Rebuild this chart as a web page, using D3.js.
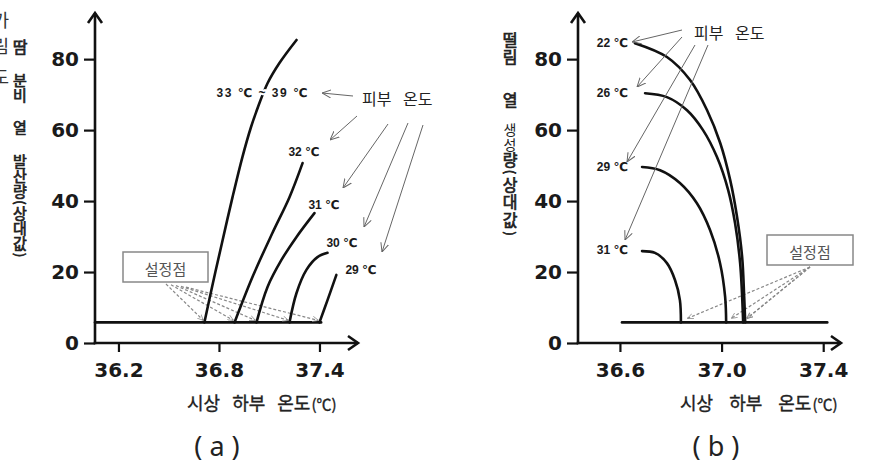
<!DOCTYPE html>
<html><head><meta charset="utf-8">
<script src="https://cdn.jsdelivr.net/npm/d3@7"></script>
<style>body{margin:0;background:#fff}svg{display:block}</style>
</head><body><svg id="c" width="872" height="463"></svg>
<script>
// ---------- data ----------
const yTicks = [0, 20, 40, 60, 80];
const xTicksA = [36.2, 36.8, 37.4];
const xTicksB = [36.6, 37.0, 37.4];
const skinLabel = "피부 온도";
const setPointLabel = "설정점";
const xTitleMain = "시상 하부 온도";
const xTitleUnit = "(℃)";
const panelNames = ["( a )", "( b )"];
const yTitleA = "땀 분비 열 발산량(상대값)";
const yTitleB = "떨림 열 생성량(상대값)";

// (a) sweating heat loss vs hypothalamic temperature
const sweatLabels = ["33 ℃ ~ 39 ℃", "32 ℃", "31 ℃", "30 ℃", "29 ℃"];
const sweat33to39 = [[36.713,5.8],[36.764,16.9],[36.818,28.2],[36.881,41.1],[36.940,52.4],[36.991,60.8],[37.033,66.5],[37.090,73.2],[37.161,78.9],[37.263,85.4]];
const sweat32 = [[36.893,5.8],[37.000,18.6],[37.119,31.0],[37.221,41.1],[37.299,50.7]];
const sweat31 = [[37.024,5.8],[37.090,15.8],[37.173,23.4],[37.263,29.9],[37.370,36.6]];
const sweat30 = [[37.221,5.8],[37.263,14.1],[37.322,20.6],[37.388,24.2],[37.448,25.4]];
const sweat29 = [[37.400,5.8],[37.448,12.1],[37.501,19.2]];
const sweatBaseline = [[36.06,5.8],[37.41,5.8]];

// (b) shivering heat production vs hypothalamic temperature
const shiverLabels = ["22 ℃", "26 ℃", "29 ℃", "31 ℃"];
const shiver22 = [[36.659,84.5],[36.785,80.6],[36.876,74.1],[36.943,65.6],[36.995,56.3],[37.034,45.9],[37.061,35.5],[37.081,24.2],[37.089,13.0],[37.093,5.8]];
const shiver26 = [[36.699,70.4],[36.785,69.3],[36.864,65.6],[36.927,60.0],[36.982,52.4],[37.026,43.1],[37.053,33.8],[37.073,22.5],[37.085,5.8]];
const shiver29 = [[36.687,49.6],[36.758,48.7],[36.836,45.1],[36.903,39.4],[36.955,31.8],[36.994,22.5],[37.014,13.0],[37.018,5.8]];
const shiver31 = [[36.687,25.9],[36.738,25.4],[36.785,22.5],[36.817,17.7],[36.836,12.1],[36.840,5.8]];
const shiverBaseline = [[36.608,5.8],[37.416,5.8]];

// ---------- drawing ----------
const svg = d3.select("#c");
svg.append("rect").attr("width",872).attr("height",463).attr("fill","#fff");
const defs = svg.append("defs");
defs.append("marker").attr("id","ah").attr("viewBox","0 0 10 10").attr("refX",10).attr("refY",5)
  .attr("markerWidth",9).attr("markerHeight",9).attr("markerUnits","userSpaceOnUse").attr("orient","auto")
  .append("path").attr("d","M0,0.5 L10,5 L0,9.5").attr("fill","none").attr("stroke","#666").attr("stroke-width",1.1);
defs.append("marker").attr("id","ahs").attr("viewBox","0 0 10 10").attr("refX",10).attr("refY",5)
  .attr("markerWidth",6).attr("markerHeight",6).attr("markerUnits","userSpaceOnUse").attr("orient","auto")
  .append("path").attr("d","M0,0.5 L10,5 L0,9.5").attr("fill","none").attr("stroke","#888").attr("stroke-width",1.2);

const KR = "'Noto Sans CJK KR','Noto Sans',sans-serif";
const NUM = "'DejaVu Sans',sans-serif";
const SMALL = "'Liberation Sans','DejaVu Sans',sans-serif";
const y = d3.scaleLinear().domain([0, 93]).range([343, 13]);
const line = d3.line().curve(d3.curveCatmullRom.alpha(0.5));

function drawAxes(g, x, ticks) {
  const [x0, x1] = x.range();
  const yAx = g.append("g").attr("transform", `translate(${x0},0)`)
    .call(d3.axisLeft(y).tickValues(yTicks).tickSize(11).tickPadding(5).tickFormat(d3.format("d")));
  yAx.select(".domain").remove();
  const xAx = g.append("g").attr("transform", `translate(0,${y(0)})`)
    .call(d3.axisBottom(x).tickValues(ticks).tickSize(9).tickPadding(11).tickFormat(d3.format(".1f")));
  xAx.select(".domain").remove();
  [yAx, xAx].forEach(a => {
    a.selectAll("line").attr("stroke","#111").attr("stroke-width",2.2);
    a.selectAll("text").attr("fill","#1a1a1a").style("font-family",NUM).style("font-weight","bold").style("font-size","20px");
  });
  const ax = g.append("g").attr("fill","none").attr("stroke","#111").attr("stroke-width",2.6);
  ax.append("path").attr("d", `M${x0},${y(0)+1.3} V${y(93)}`);
  ax.append("path").attr("d", `M${x0-1.3},${y(0)} H${x1}`);
  ax.append("path").attr("d", `M${x0-7},${y(93)+10} L${x0},${y(93)} L${x0+7},${y(93)+10}`);
  ax.append("path").attr("d", `M${x1-10},${y(0)-7} L${x1},${y(0)} L${x1-10},${y(0)+7}`);
}
function curve(g, x, data, w) {
  g.append("path").attr("d", line(data.map(d => [x(d[0]), y(d[1])])))
    .attr("fill","none").attr("stroke","#111").attr("stroke-width", w || 2.6).attr("stroke-linecap","round");
}
function label(g, txt, px, py, anchor, opts) {
  const t = g.append("text").attr("x",px).attr("y",py).attr("text-anchor",anchor||"middle")
    .attr("dominant-baseline","central").text(txt)
    .style("font-family",SMALL).style("font-weight","bold").style("font-size","12px").attr("fill","#1a1a1a")
    .attr("stroke","#fff").attr("stroke-width",4).attr("paint-order","stroke").attr("stroke-linejoin","round");
  if (opts && opts.len) t.attr("textLength",opts.len).attr("lengthAdjust","spacing");
  return t;
}
function arrow(g, a, b, id, dash) {
  const l = g.append("line").attr("x1",a[0]).attr("y1",a[1]).attr("x2",b[0]).attr("y2",b[1])
    .attr("stroke", dash ? "#888" : "#666").attr("stroke-width", dash ? 1.2 : 1).attr("marker-end",`url(#${id})`);
  if (dash) l.attr("stroke-dasharray","3,2");
}
function box(g, x0, y0, w, h) {
  g.append("rect").attr("x",x0).attr("y",y0).attr("width",w).attr("height",h)
    .attr("fill","#fff").attr("stroke","#888").attr("stroke-width",1.5);
  g.append("text").attr("x",x0+w/2).attr("y",y0+h/2+1).attr("text-anchor","middle").attr("dominant-baseline","central")
    .text(setPointLabel).style("font-family",KR).style("font-size","15px").attr("fill","#555");
}
// vertical stacked title: one text element, each glyph placed at its own centre
function vertTitle(g, cx, title, centres, sizes, bolds) {
  const chars = Array.from(title).filter(c => c !== " ");
  const t = g.append("text").attr("x",cx).style("writing-mode","vertical-rl").style("font-family",KR).attr("fill","#222");
  chars.forEach((c, i) => {
    const size = sizes[i], paren = (c === "(" || c === ")");
    const sp = t.append("tspan").text(c).style("font-size", size+"px")
      .attr("y", centres[i] - (paren ? size*0.17 : size/2));
    if (bolds[i]) sp.attr("stroke","#222").attr("stroke-width",0.7);
  });
}
function bottomTitles(g, x0, ws, cx, name) {
  const t = g.append("text").attr("x",x0).attr("y",410).style("font-family",KR).style("font-size","18px")
    .attr("fill","#222").attr("stroke","#222").attr("stroke-width",0.35).style("word-spacing",ws+"px");
  t.append("tspan").text(xTitleMain);
  t.append("tspan").text(xTitleUnit).style("font-size","15px").attr("dx",1);
  g.append("text").attr("x",cx).attr("y",456).attr("text-anchor","middle").text(name)
    .style("font-family","'Noto Sans',sans-serif").style("font-size","27px").attr("fill","#222");
}

// clipped fragments of a neighbouring figure at the far left edge
["가","림","도"].forEach((c,i) => svg.append("text").attr("x",9).attr("y",[19,45,76][i]).attr("text-anchor","end")
  .attr("dominant-baseline","central").text(c).style("font-family",KR).style("font-size","18px").attr("fill","#333"));

// ---- panel (a) ----
const gA = svg.append("g");
const xA = d3.scaleLinear().domain([36.06, 37.63]).range([95, 358]);
drawAxes(gA, xA, xTicksA);
vertTitle(gA, 20, yTitleA,
  [47, 80, 95, 127, 161, 176, 191, 202.5, 214, 229, 244, 255.5],
  [16, 15, 15, 15, 15, 15, 15, 13, 15, 15, 15, 13],
  [1,1,1,1,1,1,1,1,1,1,1,1]);
const sweatSeries = [sweat33to39, sweat32, sweat31, sweat30, sweat29];
curve(gA, xA, sweatBaseline);
const lblA = [[262,93,91],[304,152],[324,205],[342,243],[361,270]];
sweatSeries.forEach((s,i) => arrow(gA, [166+i*5, 284+i*0.8], [xA(s[0][0])-1, y(s[0][1])-2], "ahs", true));
box(gA, 123, 252, 85, 30);
sweatSeries.forEach(s => curve(gA, xA, s));
sweatLabels.forEach((t,i) => label(gA, t, lblA[i][0], lblA[i][1], "middle", lblA[i][2] ? {len:lblA[i][2]} : null));
gA.append("text").attr("x",362).attr("y",98).attr("dominant-baseline","central").text(skinLabel)
  .style("font-family",KR).style("font-size","16px").style("word-spacing","8px").attr("fill","#222");
arrow(gA,[353,96],[322,93],"ah");
arrow(gA,[357,116],[330,140],"ah");
arrow(gA,[388,124],[343,188],"ah");
arrow(gA,[408,123],[364,227],"ah");
arrow(gA,[423,125],[382,252],"ah");
bottomTitles(gA, 187, 8, 217, panelNames[0]);

// ---- panel (b) ----
const gB = svg.append("g");
const xB = d3.scaleLinear().domain([36.435, 37.47]).range([578, 841]);
drawAxes(gB, xB, xTicksB);
vertTitle(gB, 510, yTitleB,
  [40, 57, 100, 130, 145, 160, 172, 185, 202, 220, 234],
  [16, 16, 16, 14, 14, 16, 13, 16, 16, 16, 13],
  [1,1,1,0,0,1,1,1,1,1,1]);
const shiverSeries = [shiver22, shiver26, shiver29, shiver31];
curve(gB, xB, shiverBaseline);
shiverSeries.forEach((s,i) => arrow(gB, [810, 267], [xB(s[s.length-1][0])+2+i*1.5, y(s[s.length-1][1])-4], "ahs", true));
box(gB, 767, 235, 86, 30);
shiverSeries.forEach(s => curve(gB, xB, s));
const lblBy = [43, 93, 167, 250];
shiverLabels.forEach((t,i) => label(gB, t, 628, lblBy[i], "end"));
gB.append("text").attr("x",694).attr("y",32).attr("dominant-baseline","central").text(skinLabel)
  .style("font-family",KR).style("font-size","16px").style("word-spacing","8px").attr("fill","#222");
arrow(gB,[682,30],[632,42],"ah");
arrow(gB,[682,37],[637,87],"ah");
arrow(gB,[695,45],[627,162],"ah");
arrow(gB,[708,45],[625,240],"ah");
bottomTitles(gB, 680, 12, 716, panelNames[1]);
</script></body></html>
